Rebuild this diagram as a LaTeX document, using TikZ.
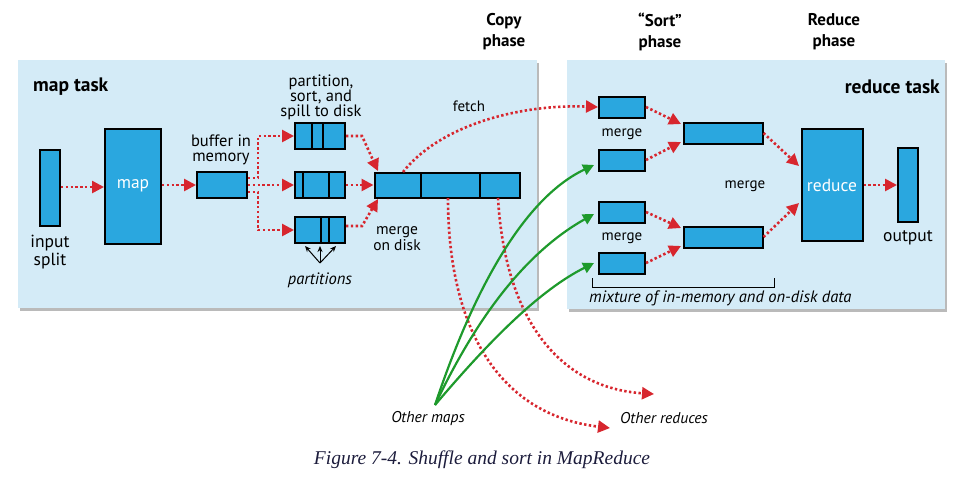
\documentclass[tikz,border=0pt]{standalone}
\usepackage{fontspec}
\setmainfont{PT Sans}
\newfontfamily\capfont{Liberation Serif}
\usetikzlibrary{arrows.meta,shadows}
\definecolor{panel}{HTML}{D4EBF7}
\definecolor{boxfill}{HTML}{2AA7DF}
\definecolor{arrred}{HTML}{D7262E}
\definecolor{arrgreen}{HTML}{1E9A2C}
\definecolor{captext}{HTML}{1C1C3C}
\tikzset{
  panelbox/.style={fill=panel, draw=none, drop shadow={shadow xshift=2pt, shadow yshift=-3pt, fill=black!45, opacity=0.6}},
  blk/.style={draw=black, fill=boxfill, line width=2pt, inner sep=0pt},
  lbl/.style={font=\fontsize{16.5}{15}\selectfont, align=center, inner sep=0pt},
  slbl/.style={font=\fontsize{15}{15}\selectfont, align=center, inner sep=0pt},
  blbl/.style={font=\fontsize{17.5}{18}\selectfont, align=center, inner sep=0pt},
  ilbl/.style={font=\fontsize{16.5}{15}\selectfont\itshape, align=center, inner sep=0pt},
  hdr/.style={font=\fontsize{17}{21}\selectfont\bfseries, align=center, inner sep=0pt},
  ttl/.style={font=\fontsize{19.5}{21}\selectfont\bfseries, inner sep=0pt},
  redarr/.style={draw=arrred, line width=2.6pt, dash pattern=on 2.4pt off 2.4pt, -{Triangle[length=12pt,width=12pt]}},
  grnarr/.style={draw=arrgreen, line width=2.2pt, -{Triangle[length=11pt,width=11pt]}},
  blkarr/.style={draw=black, line width=1pt, -{Stealth[length=6pt,width=5pt]}},
}
\begin{document}
\begin{tikzpicture}[x=1pt,y=-1pt]
\useasboundingbox (0,0) rectangle (963,483);
% panels
\node[panelbox, minimum width=519, minimum height=248, anchor=north west] (mpanel) at (18,60) {};
\node[panelbox, minimum width=378, minimum height=249, anchor=north west] (rpanel) at (567,60) {};
\node[ttl, anchor=west] (maptask) at (33,87) {map task};
\node[ttl, anchor=east] (redtask) at (940,87) {reduce task};
% phase headers
\node[hdr] (copyph) at (504,32) {Copy\\phase};
\node[hdr] (sortph) at (660,32) {``Sort''\\phase};
\node[hdr] (redph) at (834,32) {Reduce\\phase};
% map side
\node[blk, minimum width=20, minimum height=76] (inp) at (50,188) {};
\node[blbl] (inptxt) at (50,252) {input\\split};
\node[blk, minimum width=56, minimum height=115] (map) at (133,186) {};
\node[blbl, text=white] (maptxt) at (133,186) {map};
\node[blk, minimum width=50, minimum height=26] (buf) at (222,185) {};
\node[lbl] (buftxt) at (221,150) {buffer in\\memory};
\node[blk, minimum width=50, minimum height=26] (p1) at (320,136) {};
\node[blk, minimum width=50, minimum height=26] (p2) at (320,185) {};
\node[blk, minimum width=50, minimum height=26] (p3) at (320,230) {};
\draw[line width=2pt] (312,123) -- (312,149) (323,123) -- (323,149);
\draw[line width=2pt] (303,172) -- (303,198) (329,172) -- (329,198);
\draw[line width=2pt] (321,217) -- (321,243) (329,217) -- (329,243);
\node[lbl] (parttxt) at (321,97) {partition,\\sort, and\\spill to disk};
\coordinate (pt) at (320,263);
\draw[blkarr] (pt) -- (305,246);
\draw[blkarr] (pt) -- (320,246);
\draw[blkarr] (pt) -- (336,246);
\node[ilbl] (partlbl) at (320,280) {partitions};
\node[blk, minimum width=145, minimum height=25] (mrg) at (447,185) {};
\draw[line width=2pt] (421,173) -- (421,197) (480,173) -- (480,197);
\node[slbl, font=\fontsize{15.5}{16}\selectfont] (mdtxt) at (397,239) {merge\\on disk};
\node[slbl] (fetchtxt) at (469,106) {fetch};
% map side arrows
\draw[redarr] (inp.east |- 0,187) -- (map.west |- 0,187);
\draw[redarr] (map.east |- buf.west) -- (buf.west);
\draw[redarr] (buf.east |- 0,178) -- (258,178) -- (258,136) -- (p1.west);
\draw[redarr] (buf.east) -- (p2.west);
\draw[redarr] (buf.east |- 0,192) -- (258,192) -- (258,230) -- (p3.west);
\draw[redarr] (p1.east) -- (362,136) -- (378,171);
\draw[redarr] (p2.east) -- (mrg.west);
\draw[redarr] (p3.east |- 0,226) -- (362,226) -- (378,199);
% reduce side
\node[blk, minimum width=46, minimum height=21] (r1) at (622,107) {};
\node[blk, minimum width=46, minimum height=21] (r2) at (622,160) {};
\node[blk, minimum width=46, minimum height=21] (r3) at (622,212) {};
\node[blk, minimum width=46, minimum height=21] (r4) at (622,263) {};
\node[slbl] (mg1) at (622,134) {merge};
\node[slbl] (mg2) at (622,238) {merge};
\node[blk, minimum width=79, minimum height=21] (m1) at (723,133) {};
\node[blk, minimum width=79, minimum height=21] (m2) at (723,237) {};
\node[slbl] (mg3) at (745,186) {merge};
\node[blk, minimum width=61, minimum height=112] (red) at (832,185) {};
\node[blbl, text=white] (redtxt) at (832,185) {reduce};
\node[blk, minimum width=20, minimum height=74] (out) at (908,185) {};
\node[blbl] (outtxt) at (908,238) {output};
\draw[line width=1pt] (592,278) -- (592,287) -- (774,287) -- (774,278);
\node[ilbl, anchor=west] (mix) at (589,298) {mixture of in-memory and on-disk data};
% reduce side arrows
\draw[redarr] (r1.east) -- (681,124);
\draw[redarr] (r2.east) -- (681,142);
\draw[redarr] (r3.east) -- (681,228);
\draw[redarr] (r4.east) -- (681,246);
\draw[redarr] (m1.east) -- (799,166);
\draw[redarr] (m2.east) -- (799,203);
\draw[redarr] (red.east) -- (out.west);
% fetch
\draw[redarr] (403,172) .. controls (440,125) and (520,104) .. (r1.west);
% other reduces
\coordinate (or1) at (610,428);
\coordinate (or2) at (654,394);
\draw[redarr] (448,198) .. controls (448,330) and (500,415) .. (or1);
\draw[redarr] (498,198) .. controls (505,320) and (560,388) .. (or2);
\node[ilbl, font=\fontsize{15.6}{16}\selectfont\itshape, anchor=west] (ortxt) at (620,418) {Other reduces};
% other maps
\coordinate (om) at (435,405);
\draw[grnarr] (om) .. controls (470,300) and (520,200) .. (594,165);
\draw[grnarr] (om) .. controls (480,310) and (530,250) .. (594,214);
\draw[grnarr] (om) .. controls (490,340) and (540,290) .. (594,263);
\node[ilbl, font=\fontsize{15.6}{16}\selectfont\itshape] (omtxt) at (428,418) {Other maps};
% caption
\node[font=\capfont\fontsize{19.5}{22}\selectfont\itshape, text=captext, inner sep=0pt] (cap) at (482,460) {Figure 7-4. Shuffle and sort in MapReduce};
\end{tikzpicture}
\end{document}
